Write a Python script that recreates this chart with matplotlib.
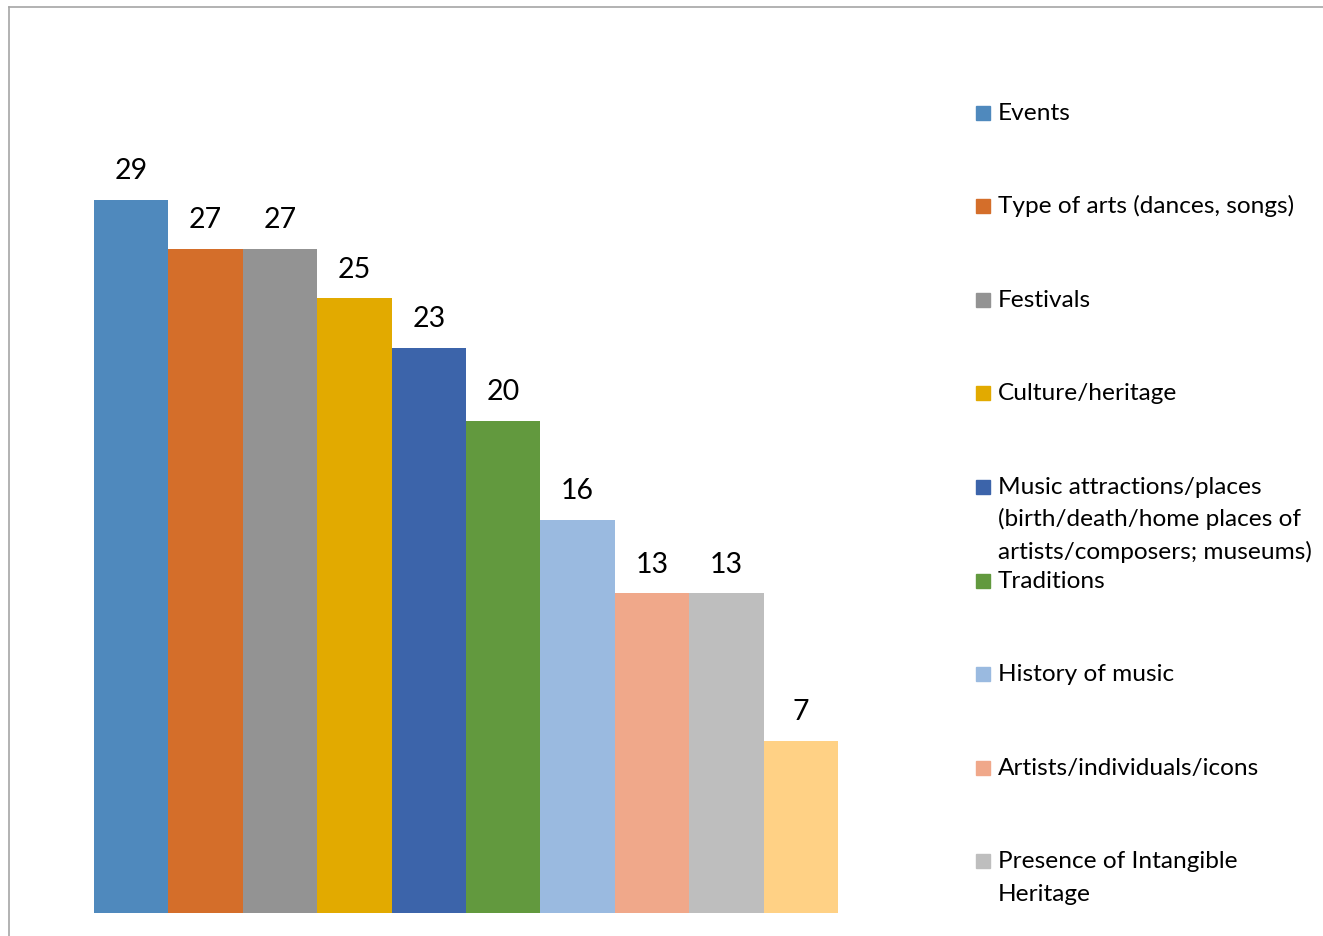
import matplotlib
matplotlib.use("Agg")
import matplotlib.pyplot as plt
from matplotlib.lines import Line2D
from matplotlib.patches import Rectangle

categories = [
    "Events",
    "Type of arts (dances, songs)",
    "Festivals",
    "Culture/heritage",
    "Music attractions/places\n(birth/death/home places of\nartists/composers; museums)",
    "Traditions",
    "History of music",
    "Artists/individuals/icons",
    "Presence of Intangible\nHeritage",
    "Other",
]
values = [29, 27, 27, 25, 23, 20, 16, 13, 13, 7]
colors = ["#4F89BD", "#D46E2A", "#939393", "#E2AA00", "#3C64AA",
          "#62993E", "#9ABAE0", "#F0A88A", "#BEBEBE", "#FFD185"]

plt.rcParams['font.family'] = ['Lato', 'DejaVu Sans']

W, H = 1323, 936
fig = plt.figure(figsize=(W / 100, H / 100), dpi=100)

# outer chart border (clipped by image edges)
fig.add_artist(Line2D([9 / W, 1.0], [1 - 7 / H, 1 - 7 / H], color="#A6A6A6", lw=1.2, transform=fig.transFigure))
fig.add_artist(Line2D([9 / W, 9 / W], [0.0, 1 - 7 / H], color="#A6A6A6", lw=1.2, transform=fig.transFigure))

ymax = 35
px_per_unit = 713 / 29
ax_left, ax_right, ax_bottom = 94, 838, 913
ax_top = ax_bottom - ymax * px_per_unit
ax = fig.add_axes([ax_left / W, 1 - ax_bottom / H, (ax_right - ax_left) / W, (ax_bottom - ax_top) / H])

x = list(range(len(values)))
bars = ax.bar(x, values, width=1.0, color=colors)
ax.set_xlim(-0.5, len(values) - 0.5)
ax.set_ylim(0, ymax)
ax.axis("off")

for b, v in zip(bars, values):
    ax.annotate(str(v), (b.get_x() + b.get_width() / 2, v), xytext=(0, 15),
                textcoords="offset points", ha="center", va="baseline", fontsize=20.5, color="#000000")

# manual legend (Excel-style equal slots; last entry falls outside the image)
leg_base0, leg_dy, line_dy = 119.5, 93.6, 32.5
for i, (c, col) in enumerate(zip(categories, colors)):
    yb = leg_base0 + i * leg_dy
    if yb > H:
        continue
    fig.add_artist(Rectangle((976 / W, 1 - yb / H), 14 / W, 14 / H, color=col, transform=fig.transFigure))
    for j, line in enumerate(c.split("\n")):
        fig.text(998 / W, 1 - (yb + j * line_dy) / H, line, ha="left", va="baseline",
                 fontsize=17.6, color="#000000")

fig.savefig("out.png", dpi=100)
